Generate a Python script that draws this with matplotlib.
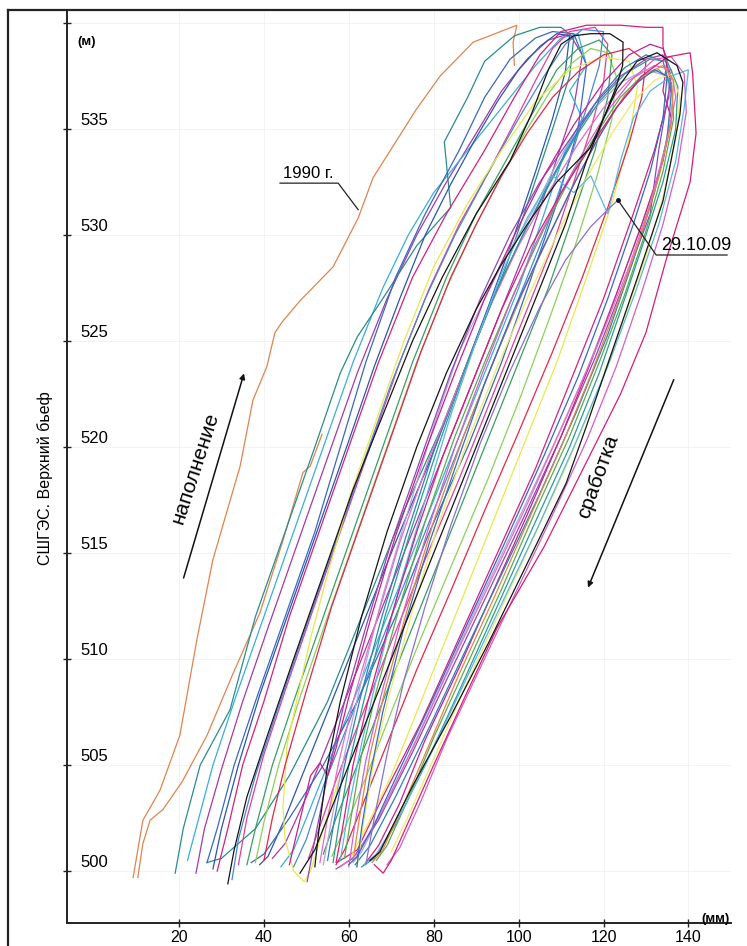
import matplotlib
matplotlib.use('Agg')
import matplotlib.pyplot as plt
from matplotlib.lines import Line2D
from matplotlib.transforms import blended_transform_factory

plt.rcParams['font.family'] = ['Liberation Sans', 'DejaVu Sans']

# ---------------- data (x: displacement, mm; y: upper pool level, m) ----------------
x_1990a = [9.2, 10.3, 11.5, 15.5, 20.2, 24.2, 28.0, 34.4, 37.4, 40.7, 42.6, 44.3, 48.5, 56.3, 62.2, 65.7, 75.8, 81.5, 89.3, 99.6, 98.7, 99.0]
y_1990a = [499.7, 501.0, 502.4, 503.8, 506.4, 510.9, 514.7, 519.1, 522.2, 523.8, 525.4, 525.9, 526.9, 528.5, 530.8, 532.7, 535.9, 537.5, 539.1, 539.9, 539.1, 538.0]
x_1990b = [53.7, 50.9, 49.2, 44.5, 39.1, 32.7, 26.6, 20.7, 16.2, 13.2, 11.5, 10.3]
y_1990b = [520.6, 519.1, 518.8, 515.6, 512.2, 509.3, 506.4, 504.2, 502.9, 502.4, 501.3, 499.7]

x_a1 = [19.1, 21, 25, 32, 38, 45, 52, 58, 62, 68, 76, 84, 82.5, 88, 92, 99, 105, 110, 113, 112, 108, 103, 97, 90, 82, 73, 64, 55, 46, 38, 30, 26.6]
y_a1 = [499.9, 502, 505, 507.6, 512, 516, 520, 523.5, 525.2, 527, 529.5, 531.3, 534.4, 536.5, 538.2, 539.4, 539.8, 539.8, 539.3, 537.5, 535, 532, 528.5, 525, 521, 517, 512.5, 508, 504.5, 502, 500.6, 500.4]
x_a2 = [26.6, 29, 33, 38, 45, 52, 58, 64, 71, 78, 86, 92, 98, 104, 108, 113, 116, 114, 109, 103, 96, 88, 79, 71, 62, 54, 46, 40, 37]
y_a2 = [500.4, 502, 505, 508, 512, 516, 520, 524, 528, 531, 534, 536.5, 538.3, 539.3, 539.6, 539.5, 538, 535, 531.5, 528, 524, 520, 516, 512, 508, 505, 502.5, 500.8, 500.4]
x_a3 = [29, 31.5, 35, 40, 46, 53, 60, 67, 75, 83, 92, 99, 105, 110, 116, 124, 130, 134, 134, 136, 132, 127, 120, 112, 104, 95, 86, 77, 68, 62, 57.2]
y_a3 = [500, 502, 505, 508, 512, 516, 520, 524, 528, 531, 534, 536.5, 538.5, 539.6, 539.9, 539.9, 539.8, 539.8, 538.9, 537, 534, 531, 527, 523, 519, 515, 511, 507, 503.5, 501, 500.4]
x_a4 = [31.5, 33, 36, 41, 47, 54, 61, 68, 75, 82, 90, 98, 103, 107, 110, 113, 117, 121.5, 124.6, 124.5, 123, 119, 116, 111, 104, 96, 87, 78, 70, 63, 57, 52, 48.5]
y_a4 = [499.4, 501, 503.5, 506.5, 510, 514, 518, 521.5, 525, 528, 531, 533.5, 535.7, 537.8, 539, 539.4, 539.5, 539.5, 539.1, 538, 537, 535, 533.5, 530.5, 527, 523, 518.5, 514, 510, 506.5, 503.5, 501, 499.9]
x_a5 = [32.5, 34, 38, 43, 49, 56, 63, 70, 78, 85, 93, 100, 106, 111, 115, 120, 119, 116, 112, 106, 99, 91, 83, 75, 67, 60, 54, 50, 47]
y_a5 = [499.6, 501.5, 504.5, 507.5, 511, 515, 519, 523, 527, 530, 533, 535.5, 537.5, 539, 539.7, 539.6, 538, 536, 533.5, 530, 526.5, 522.5, 518.5, 514.5, 510.5, 507, 504, 501.5, 500.2]
x_a6 = [24, 26, 30, 35, 41, 48, 55, 62, 69, 76, 83, 90, 96, 102, 107, 112, 115, 113, 108, 102, 95, 87, 79, 71, 63, 56, 50, 45, 42]
y_a6 = [499.9, 502, 504.8, 508, 511.5, 515.5, 519.5, 523.5, 527, 530, 532.5, 534.8, 536.8, 538.3, 539.2, 539.5, 538.5, 536, 533, 529.5, 526, 522, 518, 514, 510, 506.5, 503.5, 501.3, 500.6]
x_a7 = [36, 38, 42, 47, 54, 61, 68, 75, 83, 90, 97, 104, 109, 114, 119, 122, 121, 118, 113, 107, 100, 92, 84, 76, 68, 62, 57, 54]
y_a7 = [500.3, 502, 505, 508, 512, 516, 520, 524, 528, 531, 533.5, 536, 537.8, 538.8, 539.2, 538.5, 536.5, 534, 531, 527.5, 524, 520, 516, 512, 508, 505, 502.5, 500.8]
x_a8 = [58, 54, 51, 49.5, 47, 45, 44.5, 45.5, 47.8, 51, 55, 60, 66, 73, 80, 88, 96, 104, 112, 120, 126, 128, 126, 122, 116, 109, 101, 93, 85, 77, 70, 64, 60]
y_a8 = [504.5, 502, 500, 499.5, 500, 501.5, 503, 506, 508.1, 511, 514, 517.5, 521, 525, 528.5, 531.5, 534, 536.3, 537.8, 538.4, 538.2, 537, 534.5, 531.5, 528, 524, 520, 516, 512, 508, 504.5, 502, 500.5]
x_a9 = [22, 24, 28, 33, 40, 47, 54, 61, 68, 74, 80, 86, 92, 98, 104, 110, 114, 116, 112, 115, 111, 106, 100, 93, 85, 77, 69, 62, 56, 51, 47, 44]
y_a9 = [500.5, 502, 505, 508, 512, 516, 520, 524, 527.5, 530, 532, 533.5, 535, 536.5, 538, 539.3, 539.5, 538, 536.8, 535.5, 534, 531, 527.5, 524, 520, 516, 512, 508.5, 505.5, 503, 501, 500.2]
x_a10 = [34, 36, 40, 45, 51, 58, 65, 72, 79, 86, 93, 99, 104, 108, 112, 118, 121, 120, 117, 113, 108, 101, 94, 86, 78, 70, 63, 57, 53, 50.5]
y_a10 = [500.3, 502.5, 505.5, 508.5, 512, 516, 520, 524, 527.5, 530.5, 533, 535.3, 537.3, 538.8, 539.6, 539.8, 539, 537.2, 535, 532.5, 529.5, 526, 522.5, 518.5, 514.7, 510.8, 507.3, 504.3, 502, 500.6]
x_a11 = [28, 30, 34, 39, 46, 53, 60, 66, 72, 78, 84, 90, 95, 100, 105, 109, 112, 111, 108, 104, 99, 93, 86, 79, 71, 63, 56, 50, 45, 41, 39]
y_a11 = [500.1, 502, 505, 508.3, 512.3, 516.3, 520.3, 523.8, 527, 530, 532.4, 534.6, 536.3, 537.8, 538.9, 539.5, 539.4, 537.7, 535.5, 533, 530, 526.7, 523, 519.3, 515.5, 511.5, 508, 505, 502.5, 500.7, 500.3]
x_a12 = [38, 40, 43.5, 48.5, 55, 62, 69, 76, 83, 89.5, 96, 102, 107.5, 112.5, 117, 121, 123, 122, 118.5, 113.5, 107.5, 100.5, 93, 85, 77, 70, 64, 59, 56]
y_a12 = [500.4, 502.3, 505, 508.2, 512, 516, 520, 524, 527.5, 530.3, 532.8, 535, 536.8, 538.1, 538.8, 538.6, 537.5, 535.5, 532.8, 529.6, 526.2, 522.4, 518.6, 514.8, 511, 507.5, 504.4, 502, 500.7]
x_red = [40, 42, 45, 50, 56, 63, 70, 77, 84, 90, 96, 102, 108, 114, 120, 126, 130, 129, 126, 121, 115, 108, 100, 92, 84, 76, 69, 63, 59, 57]
y_red = [500.5, 502.5, 505, 508.5, 512.5, 516.5, 520.5, 524.5, 528, 530.5, 532.8, 534.8, 536.5, 537.7, 538.5, 538.8, 538.2, 536.5, 534.3, 531.3, 528, 524.5, 520.7, 517, 513.2, 509.5, 506, 503, 501, 500.3]

x_b1 = [52, 53, 55, 58, 63, 69, 76, 83, 90, 95.6, 102, 109, 116.8, 120, 123.2, 127.9, 132.6, 137.3, 138.7, 138, 135.7, 134, 128, 122, 116, 111.2, 102, 93, 84, 75, 70, 67.3, 65]
y_b1 = [500.2, 502, 505, 508, 512, 516, 520, 523.5, 526.5, 528.5, 530.5, 532.5, 534.1, 535.5, 536.9, 538.2, 538.6, 538, 537.2, 535.7, 533.3, 531.6, 528, 524.5, 521, 518.3, 514.5, 510.8, 507.3, 504, 502, 500.9, 500.5]
x_b2 = [57, 58.5, 61, 64.5, 70, 76, 82, 89, 96, 103, 110, 117, 123, 129, 135, 140.4, 141, 141.8, 140.4, 134.7, 130, 124, 114.5, 106, 95, 88, 80, 74, 70, 68.1, 66]
y_b2 = [500.4, 502, 505, 508, 512, 516, 519.5, 523, 526.5, 529.5, 532, 534.2, 536, 537.5, 538.4, 538.6, 537.6, 534.8, 532.5, 528.8, 525.4, 522.5, 518.7, 515.3, 511.5, 508.5, 505, 502.3, 500.5, 499.9, 500.3]
x_b3 = [53.2, 55, 57.5, 61, 66, 72, 79, 86, 93, 100, 107, 114, 120, 126, 132, 136, 137, 135, 131, 126, 119, 111, 102, 93, 84, 76, 68, 62, 58]
y_b3 = [500.4, 502.5, 505, 508, 511.5, 515.5, 519.5, 523, 526.5, 529.5, 532, 534.3, 536, 537.3, 538, 537.8, 536.5, 534.5, 531.5, 528.5, 525, 521.3, 517.3, 513.5, 509.7, 506.2, 502.9, 500.8, 500.2]
x_b4 = [56.3, 57.5, 60, 63.5, 68.5, 74.5, 81, 88, 95, 101, 107, 113, 119, 125, 131, 135, 137.5, 137, 134, 130, 125, 119, 112, 104, 95, 86, 78, 71, 66, 63]
y_b4 = [500.4, 502, 505, 508, 512, 516, 520, 524, 527.5, 530, 532.3, 534.5, 536.3, 537.6, 538.3, 538.2, 537, 535, 532.5, 530, 527, 523.5, 520, 516.5, 512.5, 508.5, 505, 502.2, 500.6, 500.2]
x_b5 = [61.9, 63, 65, 68, 73, 79, 85, 92, 99, 106, 112, 118, 123, 128, 132, 135, 134, 131, 127, 121, 114, 106, 97, 88, 80, 72, 66, 62, 60]
y_b5 = [500.2, 502, 504.5, 507.5, 511.5, 515.5, 519, 523, 526.5, 529.5, 532, 534.3, 536, 537.2, 537.8, 537.5, 535.5, 533, 530.5, 527, 523.3, 519.6, 515.6, 511.7, 508.2, 504.8, 502.2, 500.7, 500.3]
x_b6 = [59, 60.5, 63, 66.5, 72, 78, 85, 92, 99, 106, 113, 119, 124, 129, 133, 136, 136.5, 134, 130, 125, 119, 112, 104, 96, 88, 80, 74, 69, 66.5]
y_b6 = [500.6, 502.5, 505.5, 508.5, 512.5, 516.5, 520.5, 524, 527.3, 530.3, 533, 535, 536.5, 537.5, 537.8, 537.2, 535.5, 533, 530.2, 527.2, 524, 520.5, 517, 513.3, 509.8, 506.3, 503.4, 501.2, 500.5]
x_b7 = [62, 63.5, 66, 69.5, 75, 81, 88, 95, 102, 109, 116, 122, 127, 132, 136, 138, 137, 134, 130, 124, 118, 111, 103, 95, 87, 80, 74, 70]
y_b7 = [500.2, 502.3, 505.3, 508.3, 512.3, 516.3, 520.3, 523.8, 527, 530, 532.7, 534.8, 536.3, 537.3, 537.6, 536.5, 534.5, 531.8, 529, 525.6, 522.3, 519, 515.5, 512, 508.5, 505.3, 502.6, 500.9]
x_b8 = [50.2, 52, 55, 59, 64, 70, 77, 84, 91, 98, 105, 112, 118, 124, 130, 134, 136, 133, 131, 125, 118, 110, 101, 92, 83, 75, 67, 61, 57]
y_b8 = [499.5, 501.5, 504.5, 508, 511.5, 515.5, 519.5, 523.5, 527, 530, 532.5, 534.5, 536.2, 537.5, 538.3, 538.5, 537.5, 534, 531, 527.8, 524.2, 520.5, 516.6, 512.8, 509, 505.6, 502.4, 500.6, 500.1]
x_b9 = [46, 48, 51, 53.2, 55, 57, 60, 65, 71, 78, 85, 92, 99, 106, 113, 120, 126, 131, 134, 135, 134, 136, 134, 129, 123, 117, 110, 102, 94, 86, 78, 72, 67, 64]
y_b9 = [500.3, 502, 504.5, 505.1, 504.5, 505.8, 508.2, 511.8, 515.8, 519.8, 523.5, 527, 530, 532.8, 535.2, 537.2, 538.5, 539, 538.8, 538.3, 536.8, 535.5, 533.5, 530.5, 527.2, 524, 520.5, 516.8, 513.2, 509.6, 506.2, 503.2, 501.2, 500.4]
x_b10 = [54, 56, 59, 63, 68, 74, 80, 86, 92, 97, 103, 108, 113, 118, 124, 130, 135, 136, 134, 129, 123, 116, 108, 99, 90, 82, 74, 67, 63, 61]
y_b10 = [500.3, 502.5, 505.5, 509, 513, 517, 521, 524.5, 527, 529, 531, 533, 534.8, 536, 537.2, 537.8, 537.5, 536, 533.5, 530.5, 527.2, 523.6, 520, 516.2, 512.4, 508.9, 505.4, 502.5, 500.9, 500.4]
x_b11 = [61, 62.5, 65, 68.5, 74, 80, 87, 94, 101, 108, 114, 120, 125, 130, 134, 136.5, 136, 133, 128.5, 123, 117, 110, 102, 94, 86, 79, 73, 68, 65.5]
y_b11 = [500.5, 502.5, 505.5, 508.5, 512.5, 516.5, 520.5, 524, 527.3, 530.3, 532.8, 535, 536.6, 537.6, 538, 537.3, 535.3, 532.7, 529.8, 526.6, 523.4, 520, 516.4, 512.8, 509.3, 506, 503.2, 501, 500.4]
x_b12 = [60, 61.5, 64, 67.5, 72.5, 78.5, 85, 91.5, 98, 104, 110, 116, 121.5, 127, 132, 136, 139, 139.5, 137.5, 134, 129, 123, 116, 108, 99, 91, 83, 77, 72, 69]
y_b12 = [500.2, 502.3, 505.2, 508.2, 512, 516, 520, 523.5, 526.8, 529.6, 532, 534.2, 536, 537.4, 538.3, 538.4, 537.6, 535.8, 533.3, 530.5, 527.3, 523.8, 520.3, 516.8, 513, 509.6, 506.2, 503.3, 501.1, 500.3]
x_b13 = [55, 56.5, 59, 62.5, 67.5, 73.5, 80, 87, 94, 100.5, 107, 113, 119, 125, 130, 134, 136, 135, 132, 127, 121, 113.5, 105, 96, 87, 79, 71, 65, 61.5]
y_b13 = [500.5, 502.3, 505, 508, 511.8, 515.8, 519.8, 523.5, 527, 529.8, 532.4, 534.6, 536.5, 537.9, 538.5, 538.2, 536.8, 534.6, 532, 528.8, 525.3, 521.6, 517.8, 514, 510.2, 506.8, 503.5, 501.2, 500.3]
x_c1 = [58, 60, 63, 67, 72, 78, 84, 90, 96, 102, 108, 113, 117, 121, 124, 127, 131, 136, 140, 139, 137, 133, 127.5, 121, 113, 104.5, 96, 87.5, 79.5, 72, 66.5, 63.5]
y_c1 = [500.5, 503, 506, 509.5, 513.5, 517.5, 521.5, 525, 528.2, 530.8, 532.8, 532, 532.8, 531, 533.5, 535.5, 536.8, 537.5, 537.8, 536, 533.5, 530.5, 527.3, 523.8, 520, 516.2, 512.6, 509, 505.6, 502.6, 500.8, 500.3]
x_2009 = [64, 66, 69, 73, 78, 84, 91, 98, 105, 111, 117, 121, 123.4]
y_2009 = [500.3, 502.5, 505.5, 509, 512.5, 516.3, 520.2, 523.6, 526.6, 528.8, 530.4, 531.2, 531.65]

point_291009 = (123.4, 531.65)

x_ticks = [20, 40, 60, 80, 100, 120, 140]
y_ticks = [500, 505, 510, 515, 520, 525, 530, 535, 540]
y_tick_labels = ['500', '505', '510', '515', '520', '525', '530', '535', '']

series = [
    (x_1990a, y_1990a, '#e0844e'), (x_1990b, y_1990b, '#e0844e'),
    (x_a6, y_a6, '#a43aa6'), (x_a9, y_a9, '#3aaed8'), (x_a1, y_a1, '#2b8c8c'),
    (x_a11, y_a11, '#2c56a8'), (x_a2, y_a2, '#3a68c0'), (x_a3, y_a3, '#d4207e'),
    (x_a10, y_a10, '#e0409a'), (x_a5, y_a5, '#4a86d6'), (x_a12, y_a12, '#8ccf5a'),
    (x_a7, y_a7, '#3a9e62'), (x_a8, y_a8, '#e8e84c'), (x_red, y_red, '#e0284a'),
    (x_b10, y_b10, '#b2a4dc'), (x_b8, y_b8, '#8e48b4'), (x_b9, y_b9, '#c81f8e'),
    (x_b13, y_b13, '#2f7fb8'), (x_b3, y_b3, '#e46cc4'), (x_b4, y_b4, '#2a9c94'),
    (x_b6, y_b6, '#5aaa50'), (x_b7, y_b7, '#eeea6a'), (x_c1, y_c1, '#5ab6e6'),
    (x_b11, y_b11, '#e0864a'), (x_b12, y_b12, '#d060c8'), (x_b5, y_b5, '#3a68c0'),
    (x_2009, y_2009, '#8a70d0'), (x_b2, y_b2, '#d81b7a'),
    (x_a4, y_a4, '#141414'), (x_b1, y_b1, '#141414'),
]

# ---------------- figure ----------------
W, H = 747, 946
fig = plt.figure(figsize=(W / 100, H / 100), dpi=100)
fig.patch.set_facecolor('white')
ax = fig.add_axes([67 / W, 1 - 923 / H, (731 - 67) / W, (923 - 11) / H])
ax.set_xlim(-6.38, 150.03)
ax.set_ylim(497.55, 540.57)

for s in ['top', 'right']:
    ax.spines[s].set_visible(False)
for s in ['left', 'bottom']:
    ax.spines[s].set_linewidth(1.4)
    ax.spines[s].set_color('#222222')

ax.set_xticks(x_ticks)
ax.set_xticklabels([str(v) for v in x_ticks], fontsize=11.5)
ax.set_yticks(y_ticks)
ax.set_yticklabels([])
ax.tick_params(axis='both', direction='inout', length=6, width=1, color='#222222')
ax.tick_params(axis='x', pad=2)
ax.grid(True, color='#f1f1f1', lw=0.6)
ax.set_axisbelow(True)

blend = blended_transform_factory(ax.transAxes, ax.transData)
for v, lab in zip(y_ticks, y_tick_labels):
    if lab:
        ax.annotate(lab, xy=(0, v), xycoords=blend, xytext=(9.4, 3.2),
                    textcoords='offset points', ha='left', va='baseline', fontsize=12)

for xs, ys, c in series:
    ax.plot(xs, ys, color=c, lw=0.9, solid_joinstyle='miter')

# annotations
ax.text(44.5, 532.7, '1990 г.', fontsize=12, ha='left', va='baseline')
ax.plot([43.8, 57.5, 62.2], [532.45, 532.45, 531.2], color='#222222', lw=0.9)
ax.text(133.5, 529.3, '29.10.09', fontsize=13, ha='left', va='baseline')
ax.plot([149.1, 132.4, point_291009[0]], [529.06, 529.06, point_291009[1]], color='#222222', lw=0.9)
ax.plot([point_291009[0]], [point_291009[1]], 'o', ms=2.5, color='#111111')

ax.annotate('', xy=(35.5, 523.6), xytext=(20.9, 513.7),
            arrowprops=dict(arrowstyle='-|>', color='#111111', lw=1.1, mutation_scale=8))
ax.annotate('', xy=(116.1, 513.25), xytext=(136.8, 523.3),
            arrowprops=dict(arrowstyle='-|>', color='#111111', lw=1.1, mutation_scale=8))
ax.text(23.8, 519.0, 'наполнение', rotation=72, fontsize=15, ha='center', va='center',
        rotation_mode='anchor')
ax.text(118.7, 518.6, 'сработка', rotation=70, fontsize=15, ha='center', va='center',
        rotation_mode='anchor')

fig.text(77 / W, 1 - 45 / H, '(м)', fontsize=9.5, fontweight='bold', ha='left', va='baseline')
fig.text(716 / W, 1 - 919 / H, '(мм)', fontsize=9.5, fontweight='bold', ha='center', va='center')
fig.text(45 / W, 1 - 478 / H, 'СШГЭС. Верхний бьеф', rotation=90, fontsize=11.5,
         ha='center', va='center')

# outer frame
fig.add_artist(Line2D([8 / W, 8 / W], [0, 1 - 10 / H], transform=fig.transFigure, color='#222222', lw=1.6))
fig.add_artist(Line2D([8 / W, 1], [1 - 10 / H, 1 - 10 / H], transform=fig.transFigure, color='#222222', lw=1.6))

fig.savefig('out.png', dpi=100)
